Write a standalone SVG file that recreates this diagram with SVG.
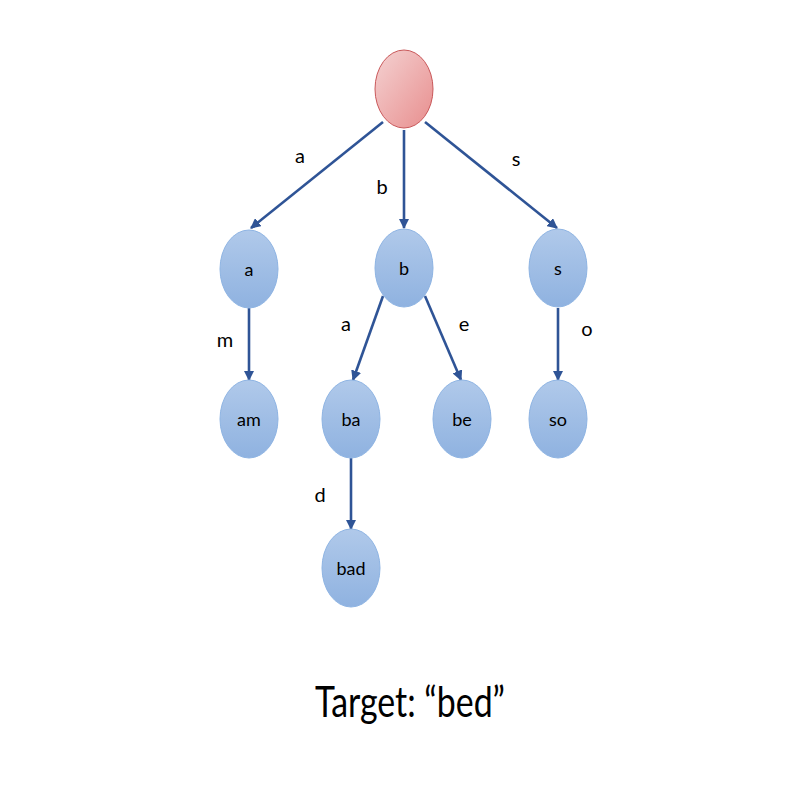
<svg xmlns="http://www.w3.org/2000/svg" width="800" height="800" viewBox="0 0 800 800">
<defs>
<linearGradient id="gb" x1="0" y1="0" x2="0" y2="1">
<stop offset="0" stop-color="#b0c9ea"/>
<stop offset="1" stop-color="#8fb2e0"/>
</linearGradient>
<linearGradient id="gr" x1="0" y1="0" x2="1" y2="1">
<stop offset="0" stop-color="#f4d2d2"/>
<stop offset="1" stop-color="#e88e8e"/>
</linearGradient>
<marker id="ah" viewBox="0 0 10 10" refX="9" refY="5" markerWidth="4" markerHeight="4" orient="auto" markerUnits="strokeWidth">
<path d="M0,0 L10,5 L0,10 z" fill="#2f5496"/>
</marker>
<style>
.n ellipse{fill:url(#gb);stroke:#8eb4e3;stroke-width:1}
.n text{font-family:Lato,"Open Sans",sans-serif;font-size:18px;fill:#000;text-anchor:middle}
.e line{stroke:#2f5496;stroke-width:2.6;marker-end:url(#ah)}
.lbl{font-family:Lato,"Open Sans",sans-serif;font-size:20px;fill:#000;text-anchor:middle}
</style>
</defs>
<rect width="800" height="800" fill="#fff"/>
<g id="edges" class="e">
<line x1="383" y1="122" x2="251" y2="228"/>
<line x1="404" y1="130" x2="404" y2="228"/>
<line x1="425" y1="122" x2="557" y2="228"/>
<line x1="249" y1="308" x2="249" y2="380"/>
<line x1="383" y1="296" x2="353" y2="380"/>
<line x1="425" y1="296" x2="461" y2="380"/>
<line x1="558" y1="308" x2="558" y2="380"/>
<line x1="351" y1="458" x2="351" y2="529"/>
</g>
<g id="edge-labels">
<text class="lbl" x="300" y="163">a</text>
<text class="lbl" x="382" y="194">b</text>
<text class="lbl" x="516" y="166">s</text>
<text class="lbl" x="225" y="347">m</text>
<text class="lbl" x="346" y="331">a</text>
<text class="lbl" x="464" y="331">e</text>
<text class="lbl" x="587" y="336">o</text>
<text class="lbl" x="320" y="502">d</text>
</g>
<g id="root"><ellipse cx="404" cy="89" rx="29" ry="39" fill="url(#gr)" stroke="#c9585a" stroke-width="1"/></g>
<g id="node-a" class="n"><ellipse cx="249" cy="269" rx="29" ry="39"/><text x="249" y="276">a</text></g>
<g id="node-b" class="n"><ellipse cx="404" cy="268" rx="29" ry="39"/><text x="404" y="275">b</text></g>
<g id="node-s" class="n"><ellipse cx="558" cy="268" rx="29" ry="39"/><text x="558" y="275">s</text></g>
<g id="node-am" class="n"><ellipse cx="249" cy="419" rx="29" ry="39"/><text x="249" y="426">am</text></g>
<g id="node-ba" class="n"><ellipse cx="351" cy="419" rx="29" ry="39"/><text x="351" y="426">ba</text></g>
<g id="node-be" class="n"><ellipse cx="462" cy="419" rx="29" ry="39"/><text x="462" y="426">be</text></g>
<g id="node-so" class="n"><ellipse cx="558" cy="419" rx="29" ry="39"/><text x="558" y="426">so</text></g>
<g id="node-bad" class="n"><ellipse cx="351" cy="568" rx="29" ry="39"/><text x="351" y="575">bad</text></g>
<text x="410" y="717" font-family="Lato,'Open Sans',sans-serif" font-size="43" text-anchor="middle" textLength="190" lengthAdjust="spacingAndGlyphs">Target: “bed”</text>
</svg>
